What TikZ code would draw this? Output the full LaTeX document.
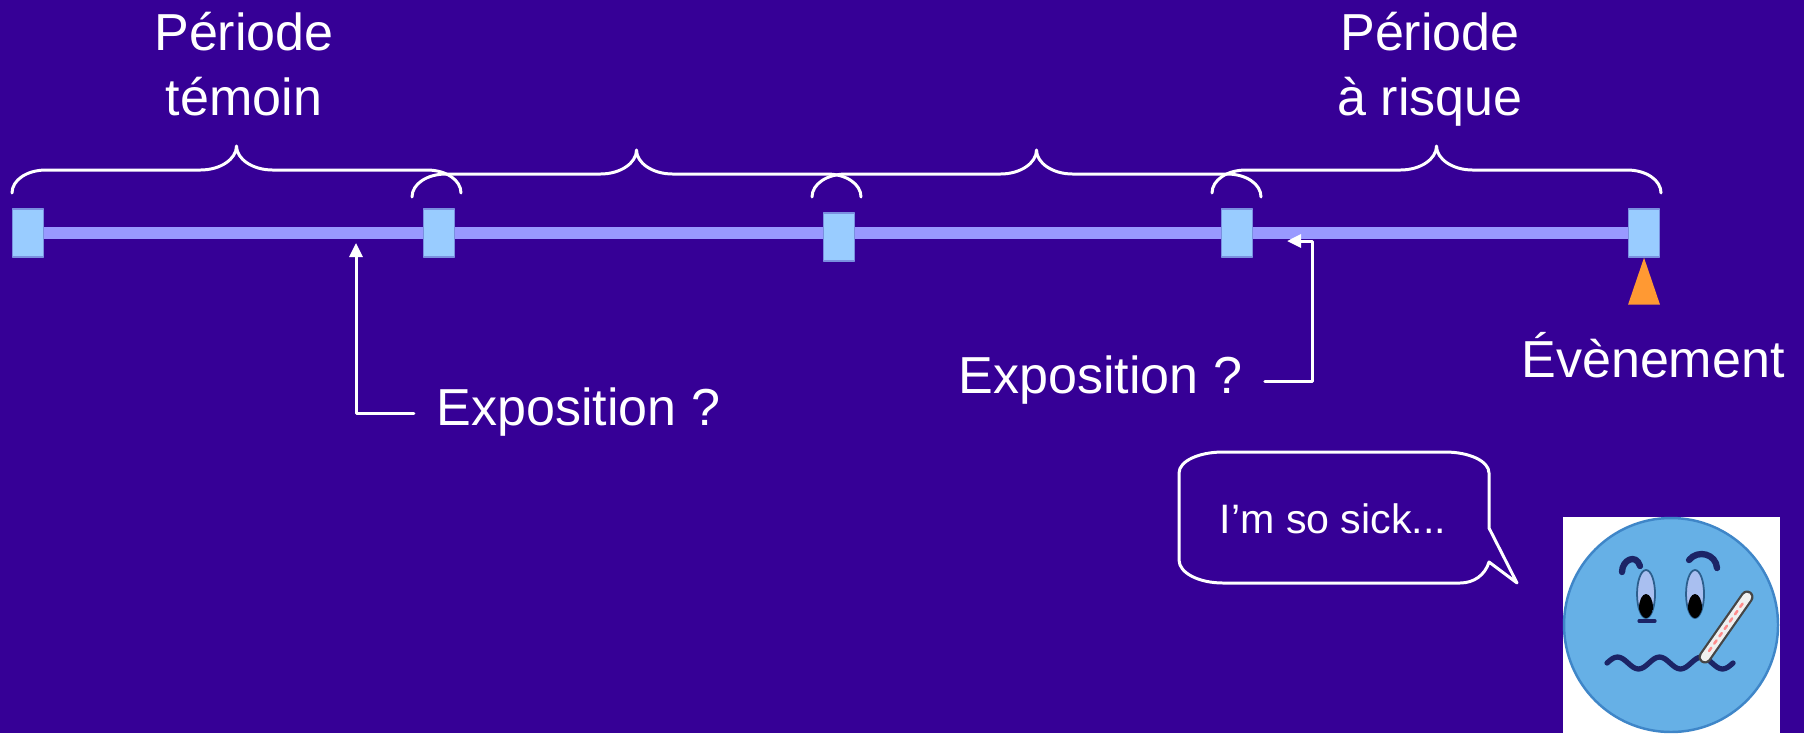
\documentclass[tikz,border=0pt]{standalone}
\usepackage{fontspec}
\setmainfont{Liberation Sans}
\usetikzlibrary{arrows.meta,backgrounds}

\definecolor{fond}{HTML}{360096}
\definecolor{barre}{HTML}{9999FF}
\definecolor{tickfill}{HTML}{99CCFF}
\definecolor{tickedge}{HTML}{7A8FE0}
\definecolor{alerte}{HTML}{FF9933}
\definecolor{visage}{HTML}{66B0E6}
\definecolor{contour}{HTML}{3F86C8}
\definecolor{oeil}{HTML}{A9BFF0}
\definecolor{trait}{HTML}{1C2466}

\begin{document}
\begin{tikzpicture}[x=0.01cm,y=-0.01cm,line cap=round,line join=round,
  every node/.style={inner sep=0pt,text=white},
  lbl/.style={font=\fontsize{14.8}{18.5}\selectfont},
  capmid/.style={lbl,text height=0.716em,text depth=0pt},
  tickbox/.style={draw=tickedge,fill=tickfill,line width=0.4pt,minimum width=0.31cm,minimum height=0.48cm},
  curly/.style={draw=white,line width=0.85pt},
  pointer/.style={draw=white,line width=0.85pt,-{Triangle[length=0.14cm,width=0.13cm]}}]
  \useasboundingbox (0,0) rectangle (1804,733);

  % points on the time line
  \node[tickbox] (t0) at (28,233) {};
  \node[tickbox] (t1) at (439,233) {};
  \node[tickbox] (t2) at (839,237) {};
  \node[tickbox] (t3) at (1237,233) {};
  \node[tickbox] (t4) at (1644,233) {};
  \begin{scope}[on background layer]
    \fill[fond] (0,0) rectangle (1804,733);
    \draw[barre,line width=0.12cm,line cap=butt] (t0.center) -- (t4.center);
  \end{scope}

  % one brace per period
  \foreach \xa/\xb/\ye in {12/461/193,412/861/197,812/1261/197,1212/1661/193}{
    \pgfmathsetmacro\xm{(\xa+\xb)/2}
    \draw[curly] (\xa,\ye) .. controls (\xa,\ye-13) and (\xa+15,\ye-23) .. (\xa+34,\ye-23)
      -- (\xm-36,\ye-23) .. controls (\xm-16,\ye-23) and (\xm,\ye-34) .. (\xm,\ye-47)
      .. controls (\xm,\ye-34) and (\xm+16,\ye-23) .. (\xm+36,\ye-23)
      -- (\xb-34,\ye-23) .. controls (\xb-15,\ye-23) and (\xb,\ye-13) .. (\xb,\ye);
  }

  \node[lbl,align=center,anchor=north] (temoin) at (244,11) {Période\\témoin};
  \node[lbl,align=center,anchor=north] (risque) at (1430,11) {Période\\à risque};

  % exposures
  \node[capmid,anchor=west] (expo1) at (436,413) {Exposition ?};
  \node[capmid,anchor=west] (expo2) at (958,381) {Exposition ?};
  \coordinate (tip1) at (356,243);
  \coordinate (knee2) at (1312,241);
  \coordinate (tip2) at (1287,241);
  \draw[pointer] ([xshift=-0.22cm]expo1.west) -| (tip1);
  \draw[pointer] ([xshift=0.22cm]expo2.east) -| (knee2) -- (tip2);

  % event
  \fill[alerte] (t4.south) -- ++(16,47) -- ++(-32,0) -- cycle;
  \node[capmid] (evt) at (1653,365) {Évènement};

  % speech bubble
  \node[font=\fontsize{11.7}{14}\selectfont] (sick) at (1333,519) {I’m so sick...};
  \draw[white,line width=0.85pt] (1179,473) -- (1179,560)
    .. controls (1179,573) and (1199,583) .. (1223,583) -- (1460,583)
    .. controls (1474,583) and (1485,575) .. (1489,562) -- (1517,583) -- (1489,528) -- (1489,473)
    .. controls (1489,461) and (1469,452) .. (1445,452) -- (1223,452)
    .. controls (1199,452) and (1179,461) .. (1179,473) -- cycle;

  % sick face
  \fill[white] (1563,517) rectangle (1780,733);
  \draw[fill=visage,draw=contour,line width=0.7pt] (1671,625) circle[radius=107];
  \draw[trait,line width=1.8pt] (1622,572) .. controls (1622,560) and (1636,553) .. (1640,566);
  \draw[trait,line width=1.8pt] (1689,560) .. controls (1698,549) and (1716,554) .. (1717,568);
  \foreach \ex in {1646,1695}{
    \draw[fill=oeil,draw=contour!70!black,line width=0.5pt] (\ex,594) ellipse[x radius=9,y radius=24];
    \begin{scope}
      \clip (\ex,594) ellipse[x radius=9,y radius=24];
      \fill[black] (\ex,608) ellipse[x radius=7,y radius=14];
    \end{scope}
  }
  \draw[trait,line width=0.9pt] (1639,621) -- (1655,621);
  \draw[trait,line width=1.5pt] (1607,663)
    \foreach \k in {0,1,2}{ sin ++(10.5,-6) cos ++(10.5,6) sin ++(10.5,6) cos ++(10.5,-6) };
  \draw[gray!55!black,line width=0.13cm] (1705,657) -- (1747,597);
  \draw[gray!12,line width=0.085cm] (1705,657) -- (1747,597);
  \draw[red!45,line width=0.025cm,dash pattern=on 0.04cm off 0.05cm] (1709,651) -- (1743,603);
\end{tikzpicture}
\end{document}
